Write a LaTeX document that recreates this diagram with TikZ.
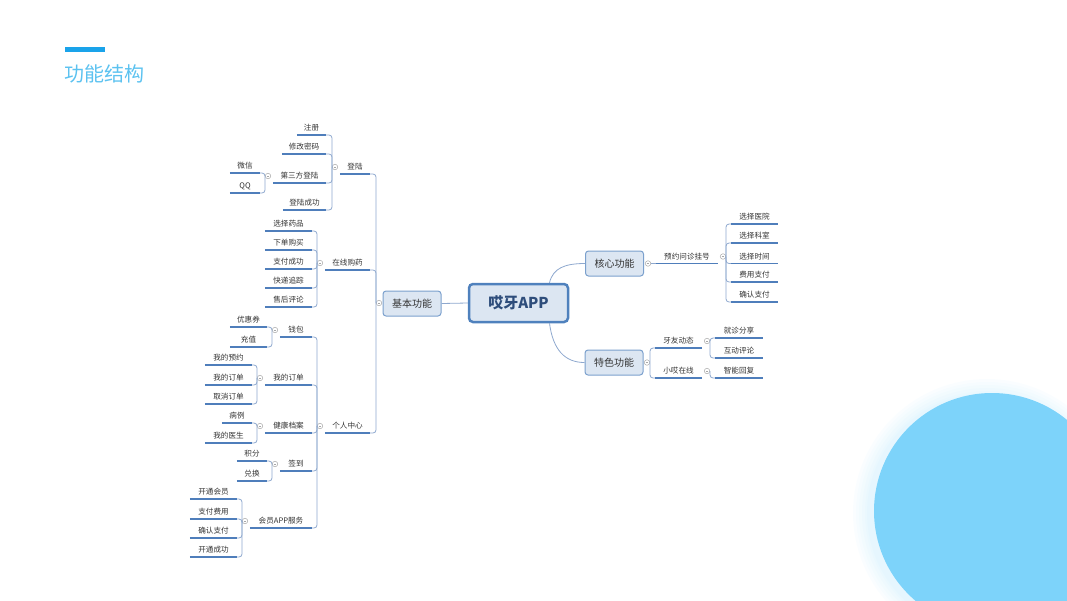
\documentclass[tikz,border=0pt]{standalone}
\usepackage{fontspec}
\newfontfamily\cjk{Noto Sans CJK SC}
\usetikzlibrary{calc}
\definecolor{ulc}{HTML}{4F7EBB}
\definecolor{connc}{HTML}{8EA8CE}
\definecolor{txtc}{HTML}{333333}
\definecolor{boxfill}{HTML}{DCE6F2}
\definecolor{boxdraw}{HTML}{7BA0CD}
\definecolor{rootdraw}{HTML}{4F81BD}
\definecolor{roottext}{HTML}{2E4D7B}
\definecolor{titlec}{HTML}{5CC2F0}
\definecolor{barc}{HTML}{1AA3EA}
\definecolor{circc}{HTML}{7DD3FA}
\definecolor{mkc}{HTML}{A8A8A8}
\tikzset{
  uline/.style={draw=ulc, line width=1.5pt},
  conn/.style={draw=connc, line width=0.8pt, rounded corners=3pt},
  topic/.style={anchor=south, inner xsep=0pt, inner ysep=3pt, text height=6.5pt, text depth=1pt,
    font=\cjk\fontsize{7.6}{9}\selectfont, text=txtc,
    append after command={(\tikzlastnode.south west) edge[uline] (\tikzlastnode.south east)}},
  mkr/.style={circle, draw=mkc, fill=white, line width=0.5pt, minimum size=5.5pt, inner sep=0pt,
    path picture={\draw[mkc, line width=0.5pt] ([xshift=-1.4pt]path picture bounding box.center) -- ([xshift=1.4pt]path picture bounding box.center);}},
  lvlone/.style={draw=boxdraw, fill=boxfill, line width=1pt, rounded corners=3pt, minimum width=58pt,
    minimum height=25pt, inner sep=0pt, font=\cjk\fontsize{10}{12}\selectfont, text=txtc},
  rootbox/.style={draw=rootdraw, fill=boxfill, line width=2.5pt, rounded corners=4pt, minimum width=99pt,
    minimum height=38pt, inner sep=0pt, font=\cjk\bfseries\fontsize{15}{18}\selectfont, text=roottext}
}
\newcommand\tpc[5]{\node[topic, minimum width={#3-#2}] (#1) at ({(#2+#3)/2},#4) {#5};}
\newcommand\mkpt[3]{\node[mkr] (#1) at (#2,#3) {};}
\newcommand\lcon[2]{\draw[conn] (#1.south east) -| (#2.west);}
\newcommand\rcon[2]{\draw[conn] (#1.south west) -| (#2.east);}
\begin{document}
\begin{tikzpicture}[x=1pt,y=-1pt]
\useasboundingbox (0,0) rectangle (1067,600);
\clip (0,0) rectangle (1067,600);
% decorative circle with soft glow
\foreach \r in {134,131,128,125,122,120}
  \fill[circc, opacity=0.035] (987,513) circle (\r);
\fill[circc] (992,511) circle (118);
% title
\fill[barc] (65,47) rectangle (105,52);
\node[font=\cjk\fontsize{20}{23}\selectfont, text=titlec, anchor=west, inner sep=0pt] (title) at (64,74) {功能结构};
% main nodes
\node[rootbox] (root) at (518.5,303) {哎牙APP};
\node[lvlone] (jb) at (412,303.5) {基本功能};
\node[lvlone] (hx) at (614.5,263.5) {核心功能};
\node[lvlone] (ts) at (614,362.5) {特色功能};
% left: level 2
\tpc{dl}{340}{370}{174}{登陆}
\tpc{zxgy}{325}{370}{270}{在线购药}
\tpc{grzx}{325}{370}{433}{个人中心}
% 登陆
\tpc{zc}{297}{326}{135}{注册}
\tpc{xgmm}{282}{326}{154}{修改密码}
\tpc{dsf}{273}{326}{183}{第三方登陆}
\tpc{dlcg}{283}{326}{210}{登陆成功}
\tpc{wx}{230}{260}{173}{微信}
\tpc{qq}{230}{260}{193}{QQ}
% 在线购药
\tpc{xzyp}{265}{312}{231}{选择药品}
\tpc{xdgm}{265}{312}{250}{下单购买}
\tpc{zfcg}{265}{312}{269}{支付成功}
\tpc{kdzz}{265}{312}{288}{快递追踪}
\tpc{shpl}{265}{312}{307}{售后评论}
% 个人中心
\tpc{qb}{280}{312}{337}{钱包}
\tpc{wddd}{265}{312}{385}{我的订单}
\tpc{jkda}{265}{312}{433}{健康档案}
\tpc{qd}{280}{312}{471}{签到}
\tpc{hy}{250}{312}{528}{会员APP服务}
\tpc{yhq}{230}{267}{327}{优惠券}
\tpc{cz}{230}{267}{347}{充值}
\tpc{wdyy}{205}{252}{365}{我的预约}
\tpc{wddd2}{205}{252}{385}{我的订单}
\tpc{qxdd}{205}{252}{404}{取消订单}
\tpc{bl}{222}{252}{423}{病例}
\tpc{wdys}{205}{252}{443}{我的医生}
\tpc{jf}{237}{267}{461}{积分}
\tpc{dh}{237}{267}{481}{兑换}
\tpc{kthy}{190}{237}{499}{开通会员}
\tpc{zffy}{190}{237}{519}{支付费用}
\tpc{qrzf}{190}{237}{538}{确认支付}
\tpc{ktcg}{190}{237}{557}{开通成功}
% right
\tpc{yy}{656}{718}{263.5}{预约问诊挂号}
\tpc{xzyy}{731}{778}{224}{选择医院}
\tpc{xzks}{731}{778}{243}{选择科室}
\tpc{xzsj}{731}{778}{263.5}{选择时间}
\tpc{fyzf}{731}{778}{282}{费用支付}
\tpc{qrzfb}{731}{778}{302}{确认支付}
\tpc{yydt}{655}{702}{348}{牙友动态}
\tpc{xa}{655}{702}{378}{小哎在线}
\tpc{jzfx}{715}{763}{338}{就诊分享}
\tpc{hdpl}{715}{763}{358}{互动评论}
\tpc{znhf}{715}{763}{378}{智能回复}
% markers
\mkpt{m0}{379}{303}
\mkpt{mdl}{335}{167}
\mkpt{mdsf}{268}{176}
\mkpt{mzx}{320}{263}
\mkpt{mgr}{320}{426}
\mkpt{mqb}{275}{330}
\mkpt{mdd}{260}{378}
\mkpt{mjk}{260}{426}
\mkpt{mqd}{275}{464}
\mkpt{mhy}{245}{521}
\mkpt{mhx}{648}{263.5}
\mkpt{myy}{723}{256.5}
\mkpt{mts}{647}{362.5}
\mkpt{myd}{707}{341}
\mkpt{mxa}{707}{371}
% connectors: root level
\draw[conn] (jb.east) -- (root.west);
\draw[conn] ([xshift=31pt]root.north) .. controls (553,268) and (565,263.5) .. (hx.west);
\draw[conn] ([xshift=31pt]root.south) .. controls (553,350) and (565,362.5) .. (ts.west);
% left connectors
\lcon{dl}{m0} \lcon{zxgy}{m0} \lcon{grzx}{m0}
\lcon{zc}{mdl} \lcon{xgmm}{mdl} \lcon{dsf}{mdl} \lcon{dlcg}{mdl}
\lcon{wx}{mdsf} \lcon{qq}{mdsf}
\lcon{xzyp}{mzx} \lcon{xdgm}{mzx} \lcon{zfcg}{mzx} \lcon{kdzz}{mzx} \lcon{shpl}{mzx}
\lcon{qb}{mgr} \lcon{wddd}{mgr} \lcon{jkda}{mgr} \lcon{qd}{mgr} \lcon{hy}{mgr}
\lcon{yhq}{mqb} \lcon{cz}{mqb}
\lcon{wdyy}{mdd} \lcon{wddd2}{mdd} \lcon{qxdd}{mdd}
\lcon{bl}{mjk} \lcon{wdys}{mjk}
\lcon{jf}{mqd} \lcon{dh}{mqd}
\lcon{kthy}{mhy} \lcon{zffy}{mhy} \lcon{qrzf}{mhy} \lcon{ktcg}{mhy}
% right connectors
\draw[conn] (mhx.east) -- (yy.south west);
\rcon{xzyy}{myy} \rcon{xzks}{myy} \rcon{xzsj}{myy} \rcon{fyzf}{myy} \rcon{qrzfb}{myy}
\rcon{yydt}{mts} \rcon{xa}{mts}
\rcon{jzfx}{myd} \rcon{hdpl}{myd}
\rcon{znhf}{mxa}
\end{tikzpicture}
\end{document}
